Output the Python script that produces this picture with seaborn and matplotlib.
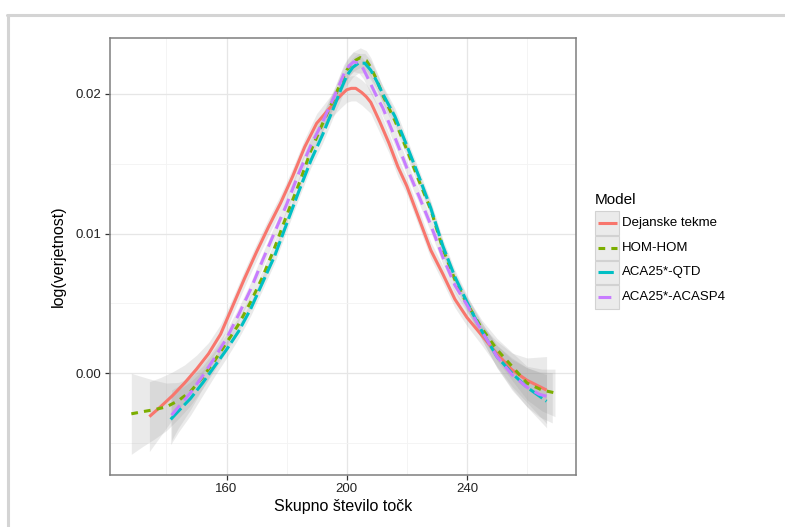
import numpy as np
import pandas as pd
import matplotlib
matplotlib.use("Agg")
import matplotlib.pyplot as plt
from matplotlib.patches import Rectangle
from matplotlib.lines import Line2D
from matplotlib.ticker import FixedLocator
import seaborn as sns

# ---- smoothed curves (loess fits) with standard-error half-widths ----
models = ["Dejanske tekme", "HOM-HOM", "ACA25*-QTD", "ACA25*-ACASP4"]
colors = ["#F8766D", "#7CAE00", "#00BFC4", "#C77CFF"]

dej_x = [134.3, 138, 142, 146, 150, 154, 158, 162, 166, 170, 174, 178, 182, 186, 190, 194, 198,
         200, 201.5, 203, 205, 206.5, 208, 211, 214, 217, 220, 224, 228, 232, 236, 240, 245, 250,
         255, 260, 266.5]
dej_y = [-0.0031, -0.0024, -0.0016, -0.0007, 0.0003, 0.0014, 0.0028, 0.0048, 0.0068, 0.0087,
         0.0105, 0.0122, 0.0141, 0.0162, 0.0179, 0.0189, 0.0199, 0.0203, 0.0204, 0.0204, 0.0201,
         0.0198, 0.0194, 0.0180, 0.0165, 0.0148, 0.0134, 0.0111, 0.0088, 0.0071, 0.0053, 0.0040,
         0.0027, 0.0014, 0.00025, -0.0005, -0.0012]
dej_se = [0.0025, 0.0021, 0.0017, 0.0013, 0.0010, 0.0008, 0.0007, 0.0006, 0.0006, 0.0006, 0.0006,
          0.0006, 0.0006, 0.0006, 0.0007, 0.0008, 0.0009, 0.0009, 0.0009, 0.0009, 0.0009, 0.0009,
          0.0008, 0.0008, 0.0007, 0.0007, 0.0006, 0.0006, 0.0006, 0.0006, 0.0006, 0.0006, 0.0007,
          0.0009, 0.0012, 0.0016, 0.0024]

hom_x = [128.3, 132, 136, 140, 144, 148, 152, 156, 160, 164, 168, 172, 176, 180, 184, 188, 192,
         196, 198, 200, 202, 204.5, 206.5, 208, 210, 212, 216, 220, 224, 228, 232, 236, 240, 245,
         250, 255, 260, 265, 269.3]
hom_y = [-0.0029, -0.00275, -0.0026, -0.0024, -0.00195, -0.0013, -0.0003, 0.0009, 0.0022, 0.0035,
         0.0051, 0.0069, 0.0090, 0.0113, 0.0135, 0.0159, 0.0179, 0.0198, 0.0208, 0.0217, 0.0223,
         0.0226, 0.0224, 0.0219, 0.0210, 0.0199, 0.0181, 0.0160, 0.0138, 0.0117, 0.0089, 0.0067,
         0.0050, 0.0032, 0.0017, 0.0005, -0.0007, -0.0012, -0.0014]
hom_se = [0.0029, 0.0025, 0.0021, 0.0017, 0.0013, 0.0010, 0.0008, 0.0007, 0.0006, 0.0005, 0.0005,
          0.0005, 0.0005, 0.0005, 0.0005, 0.0005, 0.0006, 0.0006, 0.0007, 0.0007, 0.0007, 0.0007,
          0.0007, 0.0007, 0.0006, 0.0006, 0.0006, 0.0005, 0.0005, 0.0005, 0.0005, 0.0005, 0.0005,
          0.0006, 0.0008, 0.0010, 0.0012, 0.0015, 0.0017]

qtd_x = [141.4, 144, 148, 152, 156, 160, 164, 168, 172, 176, 180, 184, 188, 192, 196, 198, 200,
         202, 203.9, 206, 208, 210, 212, 216, 220, 224, 228, 232, 236, 240, 245, 250, 255, 260,
         266.5]
qtd_y = [-0.0033, -0.0027, -0.0018, -0.0007, 0.0005, 0.0017, 0.0030, 0.0046, 0.0065, 0.0084,
         0.0107, 0.0130, 0.0152, 0.0171, 0.0192, 0.0203, 0.0213, 0.0219, 0.0222, 0.0222, 0.0217,
         0.0209, 0.0200, 0.0184, 0.0163, 0.0141, 0.0118, 0.0091, 0.0069, 0.0051, 0.0030, 0.0012,
         0.0000, -0.0010, -0.0020]
qtd_se = [0.0018, 0.0015, 0.0012, 0.0009, 0.0007, 0.0006, 0.0005, 0.0005, 0.0005, 0.0005, 0.0005,
          0.0005, 0.0005, 0.0006, 0.0006, 0.0007, 0.0007, 0.0007, 0.0007, 0.0007, 0.0007, 0.0006,
          0.0006, 0.0006, 0.0005, 0.0005, 0.0005, 0.0005, 0.0005, 0.0005, 0.0006, 0.0008, 0.0011,
          0.0014, 0.0019]

asp_x = [141.7, 144, 148, 152, 156, 160, 164, 168, 172, 176, 180, 184, 188, 192, 196, 199, 200.7,
         202.3, 204, 205.5, 208, 210, 212, 216, 220, 224, 228, 232, 236, 240, 245, 250, 255, 260,
         264, 268.4]
asp_y = [-0.0030, -0.0024, -0.0014, -0.0002, 0.0011, 0.0025, 0.0042, 0.0060, 0.0081, 0.0101,
         0.0121, 0.0143, 0.0163, 0.0180, 0.0199, 0.0214, 0.0220, 0.0223, 0.0222, 0.0218, 0.0207,
         0.0198, 0.0190, 0.0169, 0.0147, 0.0127, 0.0106, 0.0083, 0.0063, 0.0049, 0.0030, 0.0012,
         -0.0001, -0.0010, -0.0015, -0.00175]
asp_se = [0.0018, 0.0015, 0.0012, 0.0009, 0.0007, 0.0006, 0.0005, 0.0005, 0.0005, 0.0005, 0.0005,
          0.0005, 0.0005, 0.0006, 0.0006, 0.0007, 0.0007, 0.0007, 0.0007, 0.0007, 0.0007, 0.0006,
          0.0006, 0.0006, 0.0005, 0.0005, 0.0005, 0.0005, 0.0005, 0.0005, 0.0006, 0.0008, 0.0011,
          0.0014, 0.0016, 0.0018]

x_ticks = [160, 200, 240]
x_minor = [140, 180, 220, 260]
y_ticks = [0.00, 0.01, 0.02]
y_tick_labels = ["0.00", "0.01", "0.02"]
y_minor = [-0.005, 0.005, 0.015]

series = [(dej_x, dej_y, dej_se), (hom_x, hom_y, hom_se),
          (qtd_x, qtd_y, qtd_se), (asp_x, asp_y, asp_se)]

frames = []
for name, (xs, ys, ses) in zip(models, series):
    frames.append(pd.DataFrame({"x": xs, "y": ys, "se": ses, "Model": name}))
df = pd.concat(frames, ignore_index=True)

# ---- figure ----
sns.set_theme(style="white")
plt.rcParams["font.family"] = ["Liberation Sans", "DejaVu Sans"]

W, H = 785, 527
fig = plt.figure(figsize=(W / 100, H / 100), dpi=100)
fig.patch.set_facecolor("white")

def fx(px):
    return px / W

def fy(py):
    return 1 - py / H

ax = fig.add_axes([fx(110), fy(475), fx(576) - fx(110), fy(37.5) - fy(475)])
ax.set_facecolor("white")

dash_styles = {"Dejanske tekme": "", "HOM-HOM": (2.2, 2.0),
               "ACA25*-QTD": (5.0, 1.4), "ACA25*-ACASP4": (4.2, 2.2)}
lw = 2.2

for name, col in zip(models, colors):
    d = df[df["Model"] == name]
    ax.fill_between(d["x"], d["y"] - d["se"], d["y"] + d["se"],
                    color="#999999", alpha=0.2, linewidth=0, zorder=2)
    sns.lineplot(data=d, x="x", y="y", ax=ax, color=col, linewidth=lw,
                 dashes=False, legend=False, zorder=3, estimator=None, sort=False)
    line = ax.lines[-1]
    if dash_styles[name]:
        line.set_dashes(dash_styles[name])
    line.set_solid_capstyle("butt")
    line.set_dash_capstyle("butt")
    line.set_solid_joinstyle("round")

ax.set_xlim(121.2, 276.3)
ax.set_ylim(-0.00728, 0.02404)

ax.xaxis.set_major_locator(FixedLocator(x_ticks))
ax.xaxis.set_minor_locator(FixedLocator(x_minor))
ax.yaxis.set_major_locator(FixedLocator(y_ticks))
ax.yaxis.set_minor_locator(FixedLocator(y_minor))
ax.set_xticklabels([str(t) for t in x_ticks])
ax.set_yticklabels(y_tick_labels)

ax.grid(which="major", color="#e6e6e6", linewidth=0.9, zorder=0)
ax.grid(which="minor", color="#f3f3f3", linewidth=0.6, zorder=0)
ax.set_axisbelow(True)

for sp in ax.spines.values():
    sp.set_visible(True)
    sp.set_color("#7f7f7f")
    sp.set_linewidth(1.1)

ax.tick_params(axis="both", which="major", direction="out", length=3.5, width=0.9,
               color="#333333", labelsize=9.5, labelcolor="#222222", pad=2.5,
               bottom=True, left=True)
ax.tick_params(axis="both", which="minor", length=0)

ax.set_xlabel("Skupno število točk", fontsize=11.5, color="black", labelpad=3)
ax.set_ylabel("log(verjetnost)", fontsize=11.5, color="black", labelpad=7)

# ---- legend ----
fig.text(fx(595), fy(200), "Model", fontsize=11, ha="left", va="center", color="black")
row_tops = [211, 236, 260.5, 285]
key_h = 23.5
for i, (name, col) in enumerate(zip(models, colors)):
    top = row_tops[i]
    fig.add_artist(Rectangle((fx(594.5), fy(top + key_h)), fx(619) - fx(594.5),
                             fy(top) - fy(top + key_h), transform=fig.transFigure,
                             facecolor="#ebebeb", edgecolor="#d2d2d2", linewidth=0.8))
    cy = fy(top + key_h / 2)
    ln = Line2D([fx(597.5), fx(616.5)], [cy, cy], transform=fig.transFigure,
                color=col, linewidth=lw, solid_capstyle="butt", dash_capstyle="butt")
    if dash_styles[name]:
        ln.set_dashes(dash_styles[name])
    fig.add_artist(ln)
    fig.text(fx(622), cy, name, fontsize=9.5, ha="left", va="center", color="black")

# ---- outer frame ----
fig.add_artist(Line2D([fx(6.5), fx(W + 5)], [fy(14.5), fy(14.5)], transform=fig.transFigure,
                      color="#d4d4d4", linewidth=2.2))
fig.add_artist(Line2D([fx(7.5), fx(7.5)], [fy(14.5), fy(H + 5)], transform=fig.transFigure,
                      color="#d4d4d4", linewidth=2.2))

fig.savefig("out.png", dpi=100, facecolor="white")
